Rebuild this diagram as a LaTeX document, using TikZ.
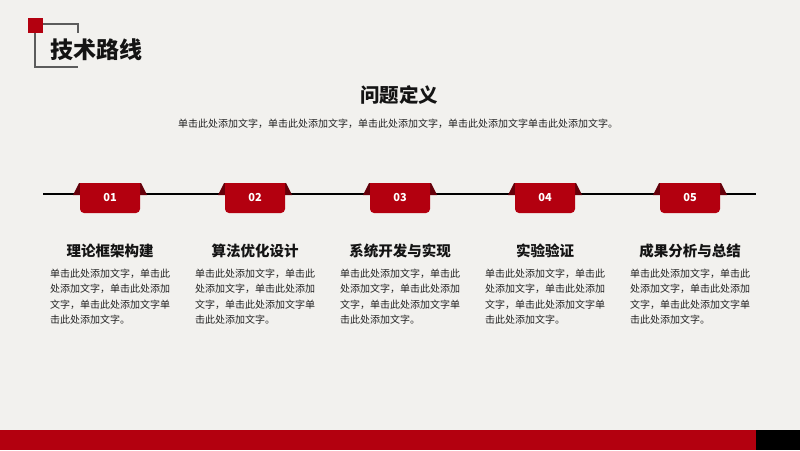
\documentclass[tikz,border=0pt]{standalone}
\usepackage{fontspec}
\setmainfont{Noto Sans CJK SC}
\usepackage{xcolor}
\usepackage{tikz}
\usetikzlibrary{positioning}

\definecolor{mainred}{HTML}{B3000F}
\definecolor{earred}{HTML}{66000A}
\definecolor{paper}{HTML}{F2F1EE}
\definecolor{framegray}{HTML}{5C5C5C}
\definecolor{inkblack}{HTML}{141414}
\definecolor{bodygray}{HTML}{222222}

\begin{document}
\begin{tikzpicture}[x=1pt, y=-1pt,
    pagetitle/.style={font=\fontsize{23}{27}\selectfont\bfseries, text=inkblack, inner sep=0pt},
    maintitle/.style={font=\fontsize{19.5}{23}\selectfont\bfseries, text=inkblack, inner sep=0pt},
    subline/.style={font=\fontsize{10}{12}\selectfont, text=bodygray, inner sep=0pt},
    tabnum/.style={font=\fontsize{11}{13}\selectfont\bfseries, text=white, inner sep=0pt},
    stephead/.style={font=\fontsize{14.5}{17}\selectfont\bfseries, text=inkblack, inner sep=0pt},
    stepbody/.style={font=\fontsize{10}{15.2}\selectfont, text=bodygray, align=left, inner sep=0pt, anchor=north west}]

% paper
\fill[paper] (0,0) rectangle (800,450);
\useasboundingbox (0,0) rectangle (800,450);

% header mark
\fill[mainred] (28,18) rectangle (43,33);
\draw[framegray, line width=1.2pt] (43,24) -- (78,24) -- (78,33);
\draw[framegray, line width=1.2pt] (35,33) -- (35,67) -- (78,67);
\node[pagetitle, anchor=west] (pagetitle) at (50,50) {技术路线};

% main title
\node[maintitle] (problem) at (399,95) {问题定义};
\node[subline] (problemtext) at (398,124) {单击此处添加文字，单击此处添加文字，单击此处添加文字，单击此处添加文字单击此处添加文字。};

% timeline
\coordinate (lineL) at (43,194);
\coordinate (lineR) at (756,194);
\draw[black, line width=1.6pt] (lineL) -- (lineR);

\foreach \i/\name in {1/理论框架构建, 2/算法优化设计, 3/系统开发与实现, 4/实验验证, 5/成果分析与总结} {
    \pgfmathsetmacro{\x}{110+145*(\i-1)}
    % ears
    \fill[earred] (\x-37,195) -- (\x-31,183) -- (\x-30,183) -- (\x-30,195) -- cycle;
    \fill[earred] (\x+37,195) -- (\x+31,183) -- (\x+30,183) -- (\x+30,195) -- cycle;
    % tab
    \fill[mainred] (\x-30,198) [rounded corners=4pt] -- (\x-30,213) -- (\x+30,213) -- (\x+30,198)
        [sharp corners] -- (\x+30,183) -- (\x-30,183) -- cycle;
    \node[tabnum] (num\i) at (\x,198) {0\i};
    \node[stephead] (head\i) at (\x,251) {\name};
    \node[stepbody] (body\i) at (\x-60,269) {单击此处添加文字，单击此\\处添加文字，单击此处添加\\文字，单击此处添加文字单\\击此处添加文字。};
}

% bottom band
\fill[mainred] (0,430) rectangle (756,450);
\fill[black] (756,430) rectangle (800,450);
\end{tikzpicture}
\end{document}
